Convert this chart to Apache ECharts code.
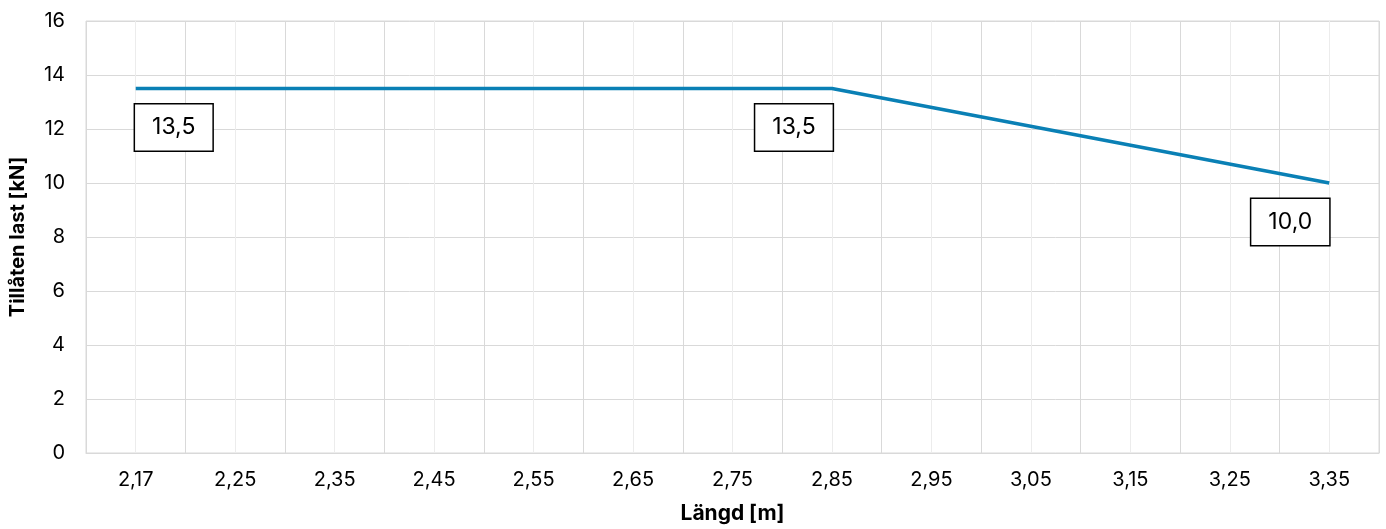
<!DOCTYPE html>
<html>
<head>
<meta charset="utf-8">
<script src="https://cdn.jsdelivr.net/npm/echarts@6/dist/echarts.min.js"></script>
<style>html,body{margin:0;padding:0;background:#fff;overflow:hidden}#c{width:1386px;height:529px}</style>
</head>
<body>
<div id="c"></div>
<script>
const categories = ['2,17','2,25','2,35','2,45','2,55','2,65','2,75','2,85','2,95','3,05','3,15','3,25','3,35'];
// known points (others null, line connects them)
const loadValues = [13.5, null, null, null, null, null, null, 13.5, null, null, null, null, 10.0];
const labelledIdx = [0, 7, 12];
const labelOffsets = {0: [38, 16], 7: [-38, 16], 12: [-39, 16]};
const yTicks = {min: 0, max: 16, interval: 2};
const xTitle = 'Längd [m]';
const yTitle = 'Tillåten last [kN]';

const font = 'Inter, "Noto Sans", sans-serif';
const chart = echarts.init(document.getElementById('c'), null, {renderer: 'canvas', width: 1386, height: 529});

const halfCats = Array.from({length: categories.length * 2 + 1}, () => '');

const seriesData = loadValues.map((v, i) => {
  if (v === null) return null;
  const item = {value: v};
  if (labelledIdx.includes(i)) {
    item.label = {
      show: true,
      position: 'bottom',
      distance: 0,
      offset: labelOffsets[i],
      formatter: (p) => p.value.toFixed(1).replace('.', ',')
    };
  }
  return item;
});

chart.setOption({
  animation: false,
  textStyle: {fontFamily: font},
  grid: {left: 83, right: 7, top: 21, bottom: 74, show: true, borderColor: '#d9d9d9', borderWidth: 1, containLabel: false},
  xAxis: [
    {
      type: 'category',
      data: categories,
      boundaryGap: true,
      name: xTitle,
      nameLocation: 'middle',
      nameGap: 50,
      nameTextStyle: {fontFamily: font, fontSize: 21, fontWeight: 'bold', color: '#000'},
      axisLine: {show: true, lineStyle: {color: '#d9d9d9', width: 1}},
      axisTick: {show: false},
      axisLabel: {fontFamily: font, fontSize: 20, color: '#000', margin: 17, interval: 0},
      splitLine: {show: true, interval: 0, lineStyle: {color: '#d9d9d9', width: 1}}
    },
    {
      type: 'category',
      data: halfCats,
      boundaryGap: false,
      position: 'bottom',
      axisLine: {show: false},
      axisTick: {show: false},
      axisLabel: {show: false},
      splitLine: {show: true, interval: (i) => i % 2 === 1, lineStyle: {color: '#ececec', width: 1}}
    }
  ],
  yAxis: {
    type: 'value',
    min: yTicks.min,
    max: yTicks.max,
    interval: yTicks.interval,
    name: yTitle,
    nameLocation: 'middle',
    nameGap: 58,
    nameTextStyle: {fontFamily: font, fontSize: 20, fontWeight: 'bold', color: '#000'},
    axisLine: {show: false},
    axisTick: {show: false},
    axisLabel: {fontFamily: font, fontSize: 20, color: '#000', margin: 21},
    splitLine: {show: true, lineStyle: {color: '#d9d9d9', width: 1}}
  },
  series: [{
    type: 'line',
    xAxisIndex: 0,
    data: seriesData,
    connectNulls: true,
    symbol: 'circle',
    symbolSize: 0,
    showSymbol: true,
    lineStyle: {color: '#0a80b5', width: 3.5},
    itemStyle: {color: '#0a80b5'},
    label: {
      show: false,
      fontFamily: font,
      fontSize: 23,
      lineHeight: 26,
      color: '#000',
      backgroundColor: '#fff',
      borderColor: '#000',
      borderWidth: 1.5,
      padding: [10, 17]
    },
    z: 5
  }]
});
</script>
</body>
</html>
